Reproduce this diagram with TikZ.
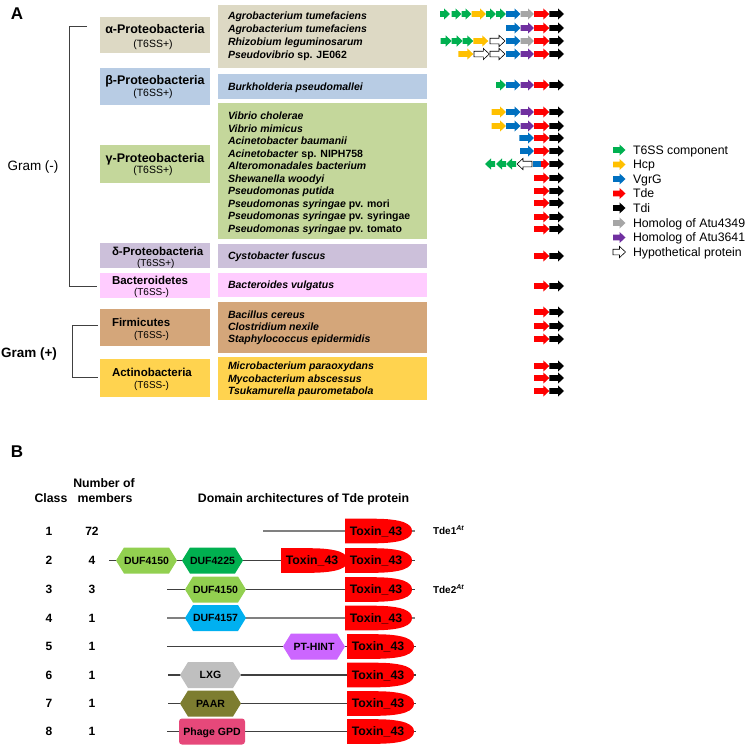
\documentclass[tikz,border=0pt]{standalone}
\usepackage{fontspec}
\setmainfont{Liberation Sans}
\definecolor{cAlpha}{RGB}{221,217,196}
\definecolor{cBeta}{RGB}{184,204,228}
\definecolor{cGamma}{RGB}{196,215,155}
\definecolor{cDelta}{RGB}{204,192,218}
\definecolor{cBact}{RGB}{255,204,255}
\definecolor{cFirm}{RGB}{212,166,122}
\definecolor{cAct}{RGB}{255,211,79}
\definecolor{cT6}{RGB}{0,176,80}
\definecolor{cHcp}{RGB}{255,192,0}
\definecolor{cVgr}{RGB}{0,112,192}
\definecolor{cTde}{RGB}{255,0,0}
\definecolor{cH49}{RGB}{166,166,166}
\definecolor{cH41}{RGB}{112,48,160}
\definecolor{cDufA}{RGB}{146,208,80}
\definecolor{cDufB}{RGB}{0,176,80}
\definecolor{cDufC}{RGB}{0,176,240}
\definecolor{cHint}{RGB}{204,102,255}
\definecolor{cLxg}{RGB}{191,191,191}
\definecolor{cPaar}{RGB}{125,125,48}
\definecolor{cGpd}{RGB}{230,72,122}
\definecolor{cLine}{RGB}{64,64,64}
\newcommand\ga[4]{\path[#1] (#2,#4-2.8) -- (#3-6,#4-2.8) -- (#3-6,#4-5.6) -- (#3,#4) -- (#3-6,#4+5.6) -- (#3-6,#4+2.8) -- (#2,#4+2.8) -- cycle;}
\newcommand\gl[4]{\path[#1] (#3,#4-2.8) -- (#2+6,#4-2.8) -- (#2+6,#4-5.6) -- (#2,#4) -- (#2+6,#4+5.6) -- (#2+6,#4+2.8) -- (#3,#4+2.8) -- cycle;}
\newcommand\rb[1]{\ga{tde}{534}{549.3}{#1}\ga{tdi}{549.3}{564}{#1}}
\newcommand\vpr[1]{\ga{vgr}{506}{520.5}{#1}\ga{h41}{520.5}{534}{#1}\rb{#1}}
\newcommand\hexa[4]{\fill[#4] (#1,#3) -- (#1+8,#3-13) -- (#2-8,#3-13) -- (#2,#3) -- (#2-8,#3+13) -- (#1+8,#3+13) -- cycle;}
\newcommand\tox[3]{\fill[cTde] (#1,#2-12.3) -- (#1+28,#2-12.3) .. controls (#1+58,#2-12.3) and (#1+67,#2-7) .. (#1+67,#2) .. controls (#1+67,#2+7) and (#1+58,#2+12.3) .. (#1+28,#2+12.3) -- (#1,#2+12.3) -- cycle;
\node[toxt] (#3) at (#1+31,#2) {Toxin\_43};}
\begin{document}
\begin{tikzpicture}[x=1pt,y=-1pt,
  every node/.style={inner sep=0pt,outer sep=0pt},
  spc/.style={anchor=west,font=\fontsize{10.5}{12}\selectfont\bfseries\itshape,text height=7.5pt,text depth=0pt},
  grp/.style={font=\fontsize{12.5}{14}\selectfont\bfseries,text height=9pt,text depth=0pt},
  grpw/.style={anchor=west,font=\fontsize{11.5}{14}\selectfont\bfseries,text height=8.2pt,text depth=0pt},
  tss/.style={font=\fontsize{10.5}{12}\selectfont,text height=7.5pt,text depth=0pt},
  tssw/.style={anchor=west,font=\fontsize{10}{12}\selectfont,text height=7.2pt,text depth=0pt},
  gram/.style={font=\fontsize{13.5}{15}\selectfont,text height=9.7pt,text depth=0pt},
  leg/.style={anchor=west,font=\fontsize{12.3}{14}\selectfont,text height=8.8pt,text depth=0pt},
  hdr/.style={font=\fontsize{12.3}{14}\selectfont\bfseries,text height=8.8pt,text depth=0pt},
  num/.style={font=\fontsize{12}{14}\selectfont\bfseries,text height=8.6pt,text depth=0pt},
  toxt/.style={font=\fontsize{12.3}{14}\selectfont\bfseries,text height=8.8pt,text depth=0pt},
  dom/.style={font=\fontsize{10.5}{12}\selectfont\bfseries,text height=7.5pt,text depth=0pt},
  tdel/.style={anchor=west,font=\fontsize{10}{12}\selectfont\bfseries,text height=7.2pt,text depth=0pt},
  panel/.style={font=\fontsize{17}{20}\selectfont\bfseries,text height=12.2pt,text depth=0pt},
  brk/.style={draw=cLine,line width=1pt},
  bline/.style={draw=cLine,line width=1.1pt},
  gline/.style={draw=gray,line width=1.1pt},
  t6/.style={fill=cT6}, hcp/.style={fill=cHcp}, vgr/.style={fill=cVgr},
  tde/.style={fill=cTde}, tdi/.style={fill=black}, h49/.style={fill=cH49},
  h41/.style={fill=cH41}, hyp/.style={fill=white,draw=black,line width=0.6pt}]
\useasboundingbox (0,0) rectangle (747,745);

% ---------- Panel A ----------
\node[panel] (pA) at (17,13) {A};

% group boxes
\fill[cAlpha] (100,17) rectangle (210,53);
\fill[cBeta]  (100,68) rectangle (210,105);
\fill[cGamma] (100,145) rectangle (210,183);
\fill[cDelta] (100,243) rectangle (210,268);
\fill[cBact]  (100,273) rectangle (210,298);
\fill[cFirm]  (100,309) rectangle (210,346);
\fill[cAct]   (100,359) rectangle (210,397);

% species boxes
\fill[cAlpha] (218,5) rectangle (427,68);
\fill[cBeta]  (218,74) rectangle (427,99);
\fill[cGamma] (218,103) rectangle (427,239);
\fill[cDelta] (218,244) rectangle (427,268);
\fill[cBact]  (218,273) rectangle (427,297);
\fill[cFirm]  (218,302) rectangle (427,353);
\fill[cAct]   (218,357) rectangle (427,400);

% group labels
\node[grp] (la) at (155,29) {α-Proteobacteria};
\node[tss] (ta) at (153,44) {(T6SS+)};
\node[grp] (lb) at (155,80) {β-Proteobacteria};
\node[tss] (tb) at (153,93) {(T6SS+)};
\node[grp] (lg) at (155,158) {γ-Proteobacteria};
\node[tss] (tg) at (153,170) {(T6SS+)};
\node[grpw] (ld) at (112,251) {δ-Proteobacteria};
\node[tssw] (td) at (137,262.5) {(T6SS+)};
\node[grpw] (lba) at (112,280) {Bacteroidetes};
\node[tssw] (tba) at (134,292) {(T6SS-)};
\node[grpw] (lf) at (112,322) {Firmicutes};
\node[tssw] (tf) at (134,335) {(T6SS-)};
\node[grpw] (lac) at (112,372) {Actinobacteria};
\node[tssw] (tac) at (134,385) {(T6SS-)};

% Gram brackets
\node[gram] (gn) at (33,166) {Gram (-)};
\node[gram,font=\fontsize{13.5}{15}\selectfont\bfseries] (gp) at (29,353) {Gram (+)};
\coordinate (gn1) at (87,26);
\coordinate (gn2) at (69,26);
\coordinate (gn3) at (69,286);
\coordinate (gn4) at (97,286);
\draw[brk] (gn1) -- (gn2) -- (gn3) -- (gn4);
\coordinate (gp1) at (98,325);
\coordinate (gp2) at (72,325);
\coordinate (gp3) at (72,377);
\coordinate (gp4) at (98,377);
\draw[brk] (gp1) -- (gp2) -- (gp3) -- (gp4);

% species
\node[spc] (s1) at (228,16) {Agrobacterium tumefaciens};
\node[spc] (s2) at (228,29) {Agrobacterium tumefaciens};
\node[spc] (s3) at (228,42) {Rhizobium leguminosarum};
\node[spc] (s4) at (228,54.5) {Pseudovibrio\textup{ sp. JE062}};
\node[spc] (s5) at (228,87) {Burkholderia pseudomallei};
\node[spc] (s6) at (228,116) {Vibrio cholerae};
\node[spc] (s7) at (228,128.5) {Vibrio mimicus};
\node[spc] (s8) at (228,141) {Acinetobacter baumanii};
\node[spc] (s9) at (228,153.5) {Acinetobacter\textup{ sp. NIPH758}};
\node[spc] (s10) at (228,166) {Alteromonadales bacterium};
\node[spc] (s11) at (228,178.5) {Shewanella woodyi};
\node[spc] (s12) at (228,191) {Pseudomonas putida};
\node[spc] (s13) at (228,203.5) {Pseudomonas syringae\textup{ pv. mori}};
\node[spc] (s14) at (228,216) {Pseudomonas syringae\textup{ pv. syringae}};
\node[spc] (s15) at (228,228.5) {Pseudomonas syringae\textup{ pv. tomato}};
\node[spc] (s16) at (228,256) {Cystobacter fuscus};
\node[spc] (s17) at (228,285) {Bacteroides vulgatus};
\node[spc] (s18) at (228,315) {Bacillus cereus};
\node[spc] (s19) at (228,327) {Clostridium nexile};
\node[spc] (s20) at (228,339) {Staphylococcus epidermidis};
\node[spc] (s21) at (228,366) {Microbacterium paraoxydans};
\node[spc] (s22) at (228,378.5) {Mycobacterium abscessus};
\node[spc] (s23) at (228,391) {Tsukamurella paurometabola};

% gene arrows
\ga{t6}{440}{450}{14}\ga{t6}{451.5}{461.5}{14}\ga{t6}{461.5}{471.5}{14}\ga{hcp}{471.5}{486}{14}\ga{t6}{486}{496}{14}\ga{t6}{496}{506}{14}\ga{vgr}{506}{520.5}{14}\ga{h49}{520.5}{534}{14}\rb{14}
\vpr{28}
\ga{t6}{440.7}{451.7}{41}\ga{t6}{451.7}{462.7}{41}\ga{t6}{462.7}{473.3}{41}\ga{hcp}{473.3}{488.3}{41}\ga{hyp}{490}{505}{41}\ga{vgr}{506}{520.5}{41}\ga{h49}{520.5}{534}{41}\rb{41}
\ga{hcp}{458.3}{473.3}{54}\ga{hyp}{474}{489.3}{54}\ga{hyp}{490}{505}{54}\vpr{54}
\ga{t6}{496}{506}{85}\vpr{85}
\ga{hcp}{491.7}{506}{112}\vpr{112}
\ga{hcp}{491.7}{506}{126}\vpr{126}
\ga{vgr}{519.3}{534}{138}\rb{138}
\ga{vgr}{520}{534}{151}\rb{151}
\gl{t6}{485}{495}{164}\gl{t6}{496}{506}{164}\gl{t6}{506}{516}{164}\gl{hyp}{517}{532}{164}
\fill[cVgr] (533,161) rectangle (541,167);
\ga{tde}{541}{549.3}{164}\ga{tdi}{549.3}{564}{164}
\rb{178}\rb{191}\rb{203}\rb{217}\rb{229}
\rb{256}\rb{286}
\rb{312}\rb{326}\rb{339}
\rb{366}\rb{378}\rb{391}

% legend
\ga{t6}{613}{625.5}{150}\ga{hcp}{613}{625.5}{164.5}\ga{vgr}{613}{625.5}{179}\ga{tde}{613}{625.5}{193.5}
\ga{tdi}{613}{625.5}{208}\ga{h49}{613}{625.5}{223}\ga{h41}{613}{625.5}{237.5}\ga{hyp}{613}{625.5}{252}
\node[leg] (g1) at (633,150) {T6SS component};
\node[leg] (g2) at (633,164.5) {Hcp};
\node[leg] (g3) at (633,179) {VgrG};
\node[leg] (g4) at (633,193.5) {Tde};
\node[leg] (g5) at (633,208) {Tdi};
\node[leg] (g6) at (633,223) {Homolog of Atu4349};
\node[leg] (g7) at (633,237.5) {Homolog of Atu3641};
\node[leg] (g8) at (633,252) {Hypothetical protein};

% ---------- Panel B ----------
\node[panel] (pB) at (17,451) {B};
\node[hdr] (hc) at (51,498) {Class};
\node[hdr] (hn1) at (104,483) {Number of};
\node[hdr] (hn2) at (105,498) {members};
\node[hdr] (hd) at (303.5,498) {Domain architectures of Tde protein};

% class / members
\foreach \c/\n/\y in {1/72/531,2/4/560.5,3/3/589.5,4/1/618,5/1/646.5,6/1/675,7/1/703.5,8/1/731.5}{
  \node[num] (c\c) at (49,\y) {\c};
  \node[num] (n\c) at (92,\y) {\n};
}

% backbones
\draw[gline] (263,531) -- (415,531);
\draw[bline] (109,560.5) -- (415,560.5);
\draw[bline] (167,589.5) -- (415,589.5);
\draw[gline] (167,618) -- (415,618);
\draw[bline] (167,646.5) -- (416,646.5);
\draw[bline] (168,675) -- (416,675);
\draw[bline] (168,703.5) -- (416,703.5);
\draw[bline] (167,731.5) -- (416,731.5);

% domains
\hexa{116}{177}{560.5}{cDufA}
\node[dom] (d21) at (146.5,560.5) {DUF4150};
\hexa{182}{243}{560.5}{cDufB}
\node[dom] (d22) at (212.5,560.5) {DUF4225};
\tox{281}{560.5}{x2a}
\hexa{185}{246}{589.5}{cDufA}
\node[dom] (d3) at (215.5,589.5) {DUF4150};
\hexa{185}{246}{618}{cDufC}
\node[dom] (d4) at (215.5,618) {DUF4157};
\hexa{283}{345}{646.5}{cHint}
\node[dom] (d5) at (314,646.5) {PT-HINT};
\hexa{180}{241}{675}{cLxg}
\node[dom] (d6) at (210.5,675) {LXG};
\hexa{180}{241}{703.5}{cPaar}
\node[dom] (d7) at (210.5,703.5) {PAAR};
\fill[cGpd,rounded corners=3pt] (179,718.5) rectangle (245,744.5);
\node[dom] (d8) at (212,731.5) {Phage GPD};

\tox{345}{531}{x1}
\tox{345}{560.5}{x2}
\tox{345}{589.5}{x3}
\tox{345}{618}{x4}
\tox{347}{646.5}{x5}
\tox{347}{675}{x6}
\tox{347}{703.5}{x7}
\tox{347}{731.5}{x8}

\node[tdel] (tde1) at (433,531) {Tde1\textsuperscript{\textit{At}}};
\node[tdel] (tde2) at (433,589.5) {Tde2\textsuperscript{\textit{At}}};
\end{tikzpicture}
\end{document}
